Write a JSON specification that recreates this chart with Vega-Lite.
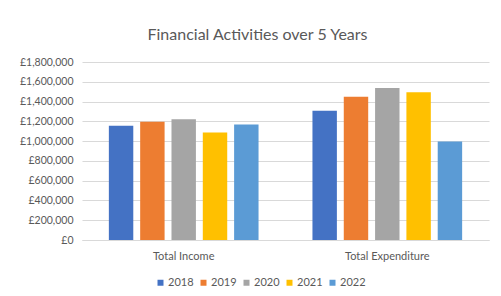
{
  "$schema": "https://vega.github.io/schema/vega-lite/v6.json",
  "width": 407,
  "height": 178,
  "autosize": {"type": "none"},
  "padding": {"left": 82, "top": 62, "right": 12, "bottom": 56},
  "background": "white",
  "title": {
    "text": "Financial Activities over 5 Years",
    "font": "Lato",
    "fontSize": 16,
    "fontWeight": "normal",
    "color": "#595959",
    "anchor": "middle",
    "dx": -28,
    "baseline": "alphabetic",
    "offset": 1
  },
  "data": {
    "values": [
      {"category": "Total Income", "year": "2018", "amount": 1155000},
      {"category": "Total Income", "year": "2019", "amount": 1197000},
      {"category": "Total Income", "year": "2020", "amount": 1220000},
      {"category": "Total Income", "year": "2021", "amount": 1088000},
      {"category": "Total Income", "year": "2022", "amount": 1169000},
      {"category": "Total Expenditure", "year": "2018", "amount": 1307000},
      {"category": "Total Expenditure", "year": "2019", "amount": 1449000},
      {"category": "Total Expenditure", "year": "2020", "amount": 1537000},
      {"category": "Total Expenditure", "year": "2021", "amount": 1493000},
      {"category": "Total Expenditure", "year": "2022", "amount": 997000}
    ]
  },
  "mark": {"type": "bar"},
  "encoding": {
    "x": {
      "field": "category",
      "type": "nominal",
      "sort": ["Total Income", "Total Expenditure"],
      "scale": {"paddingInner": 0.231, "paddingOuter": 0.115},
      "axis": {
        "title": null,
        "labelAngle": 0,
        "ticks": false,
        "domain": true,
        "domainColor": "#D9D9D9",
        "labelPadding": 10,
        "labelFont": "Lato",
        "labelFontSize": 11,
        "labelColor": "#595959"
      }
    },
    "xOffset": {
      "field": "year",
      "type": "nominal",
      "scale": {"paddingInner": 0.22, "paddingOuter": 0.11}
    },
    "y": {
      "field": "amount",
      "type": "quantitative",
      "scale": {"domain": [0, 1800000], "nice": false},
      "axis": {
        "title": null,
        "values": [0, 200000, 400000, 600000, 800000, 1000000, 1200000, 1400000, 1600000, 1800000],
        "labelExpr": "'£' + format(datum.value, ',')",
        "ticks": false,
        "domain": false,
        "grid": true,
        "gridColor": "#D9D9D9",
        "labelPadding": 9,
        "labelFont": "Lato",
        "labelFontSize": 10.5,
        "labelColor": "#595959"
      }
    },
    "color": {
      "field": "year",
      "type": "nominal",
      "scale": {
        "domain": ["2018", "2019", "2020", "2021", "2022"],
        "range": ["#4472C4", "#ED7D31", "#A5A5A5", "#FFC000", "#5B9BD5"]
      },
      "legend": {
        "title": null,
        "orient": "none",
        "direction": "horizontal",
        "legendX": 73,
        "legendY": 215,
        "symbolType": "square",
        "symbolSize": 36,
        "symbolStrokeWidth": 0,
        "labelFont": "Lato",
        "labelFontSize": 11,
        "labelColor": "#595959",
        "labelOffset": 2,
        "columnPadding": 4
      }
    }
  },
  "config": {
    "view": {"stroke": null}
  }
}
